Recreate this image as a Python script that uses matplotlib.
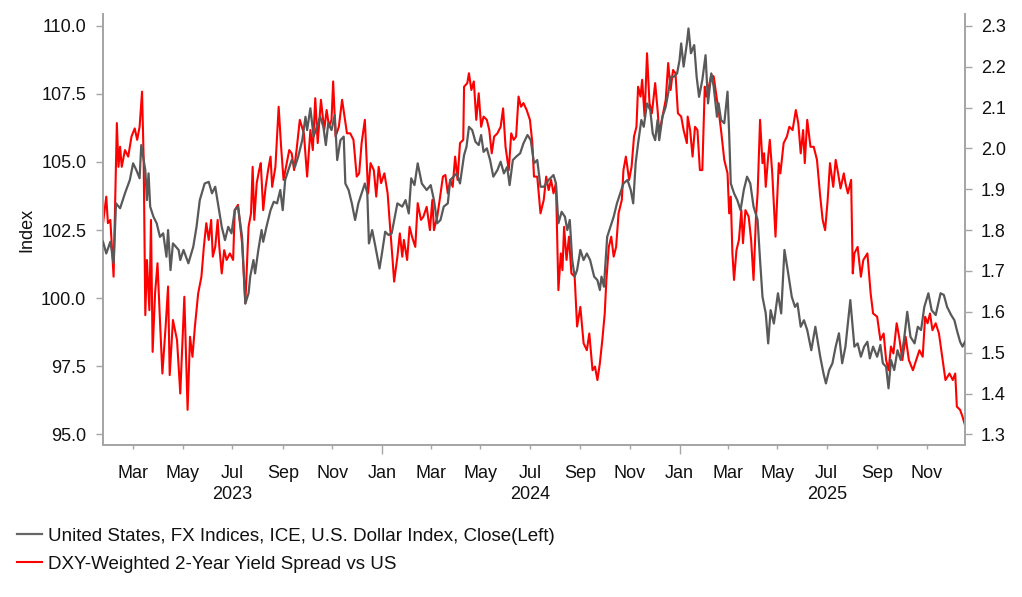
import matplotlib
matplotlib.use("Agg")
import matplotlib.pyplot as plt
import matplotlib.dates as mdates
import matplotlib.transforms as mtransforms
from matplotlib.ticker import FixedLocator, FormatStrFormatter
import pandas as pd

plt.rcParams['font.family'] = ['Liberation Sans', 'DejaVu Sans']

# ---------------- data ----------------
base_date = "2023-01-01"   # day offsets below are days since this date

dxy_day = [22,26,31,35,38,43,49,55,59,63,67,69,74,76,78,80,84,88,92,96,100,102,105,108,115,117,121,127,133,137,
           141,147,152,156,160,164,168,172,176,180,184,188,193,197,201,203,207,209,213,217,219,223,228,232,236,240,
           243,246,250,254,258,262,267,271,273,277,281,285,289,293,296,299,303,307,310,314,318,320,324,328,332,336,
           340,344,347,349,353,357,362,365,369,373,377,384,390,394,398,401,405,409,414,420,425,429,433,437,441,446,
           449,453,457,461,466,469,472,476,480,484,487,490,494,498,502,507,511,515,519,522,526,530,535,539,544,548,
           552,556,560,564,570,576,579,582,586,590,593,596,599,602,605,609,613,617,621,626,630,633,635,638,642,646,
           650,654,658,662,667,671,674,677,680,684,687,691,695,698,701,704,706,710,714,717,720,724,728,731,733,736,
           740,742,745,749,752,755,759,763,766,770,773,777,779,782,786,790,792,794,798,802,806,810,814,818,822,827,
           830,833,837,840,843,847,852,856,860,864,869,873,876,880,884,888,893,898,904,908,911,915,919,923,927,931,
           935,941,946,950,954,958,962,965,969,974,978,981,985,988,991,995,999,1003,1007,1011,1015,1020,1024,1028,
           1032,1037,1041,1046,1052,1056,1060,1065,1069,1072,1076,1079,1082]
dxy_val = [102.07,101.64,102.07,101.28,103.48,103.30,103.85,104.34,104.95,104.70,104.40,105.62,104.70,103.60,104.58,
           103.36,102.99,102.75,102.25,102.38,101.52,102.50,101.03,102.01,101.77,101.40,101.77,101.28,101.89,102.62,
           103.60,104.21,104.27,103.85,104.09,103.36,102.62,102.13,102.62,102.38,103.23,103.36,102.25,99.80,100.18,
           100.79,101.40,100.91,101.77,102.50,102.07,102.62,103.23,103.54,103.48,103.97,103.23,104.34,104.70,105.07,
           104.82,105.19,105.80,106.66,106.17,106.97,105.93,106.29,106.66,106.29,105.62,106.42,106.17,106.72,105.07,
           105.80,105.93,104.21,103.97,103.48,102.87,103.48,103.85,104.21,103.85,102.01,102.50,101.89,101.09,101.64,
           102.44,102.32,102.38,103.48,103.36,103.60,103.11,104.40,104.15,104.95,104.21,103.97,104.15,103.60,102.75,
           102.87,103.36,103.48,104.34,104.46,104.58,104.21,105.25,105.56,106.29,106.17,105.74,105.62,105.99,105.37,
           105.50,105.07,104.46,104.70,105.01,104.58,104.82,104.15,105.07,105.19,105.32,105.68,105.99,105.80,104.95,
           105.07,104.09,104.09,104.34,104.52,104.21,102.75,103.17,102.99,102.50,102.87,101.40,100.79,101.03,101.77,
           101.40,101.64,101.40,100.79,100.66,100.30,100.79,100.42,102.25,102.62,102.99,103.48,103.85,104.21,104.34,
           103.97,103.48,104.95,105.68,106.54,106.29,107.15,106.90,106.05,105.80,106.54,105.80,106.66,107.03,107.52,
           108.13,108.13,108.25,108.74,109.35,108.50,109.35,109.90,108.99,109.29,108.13,107.39,108.01,108.92,107.15,
           108.25,107.76,106.66,107.15,106.54,106.42,107.58,106.05,104.21,103.85,103.60,103.23,103.97,104.46,104.21,
           103.36,102.87,101.40,100.05,99.44,98.34,99.56,99.07,100.18,99.44,101.77,101.03,100.05,99.68,99.81,98.95,
           99.19,98.83,98.09,98.95,97.85,97.24,96.87,97.36,97.61,98.22,98.71,97.61,98.22,99.93,98.22,98.34,97.85,
           98.22,98.40,97.79,98.22,97.85,98.28,97.61,97.48,96.69,97.73,97.36,98.09,97.73,98.46,99.50,98.58,98.34,
           98.95,98.83,99.68,100.18,99.56,99.38,100.18,100.12,99.68,99.38,99.19,98.83,98.40,98.22,98.40]

spread_day = [22,26,28,31,35,37,39,41,43,45,49,53,57,61,64,67,70,72,74,76,79,81,83,86,89,92,95,99,102,104,108,113,
              117,122,126,129,132,135,139,143,146,149,152,155,157,160,163,165,168,171,174,178,182,184,188,193,197,
              201,204,206,208,211,214,216,219,222,225,228,230,234,238,241,244,248,251,254,257,260,264,269,273,277,
              280,283,286,290,294,297,300,303,305,308,312,316,319,322,326,330,334,337,340,344,348,351,355,358,361,
              364,368,372,375,378,380,384,387,390,392,396,399,402,406,409,413,416,420,424,427,429,433,436,440,443,
              446,449,452,455,458,461,465,466,470,472,475,478,481,484,487,490,494,497,500,503,507,511,514,517,521,
              524,527,530,533,536,539,543,547,550,552,556,560,564,567,570,573,576,579,582,585,587,589,592,595,598,
              602,605,609,613,617,620,624,627,630,633,636,639,641,644,647,650,653,656,660,662,665,669,672,675,678,
              680,683,685,688,691,694,697,701,704,706,710,714,717,720,723,726,729,733,736,740,741,744,747,750,753,
              756,759,762,764,767,770,773,777,779,782,786,790,792,794,796,798,801,804,807,809,812,816,819,822,825,
              827,830,833,835,837,840,842,845,849,853,855,859,863,866,870,874,877,880,883,885,888,892,896,900,904,
              907,910,913,916,920,923,926,929,933,935,938,942,944,946,950,954,957,962,966,969,974,978,982,985,988,
              991,994,998,1001,1005,1009,1013,1018,1022,1026,1030,1033,1036,1039,1042,1046,1050,1054,1058,1063,
              1067,1070,1072,1076,1079,1082]
spread_val = [1.817,1.882,1.817,1.825,1.686,1.874,2.062,1.955,2.004,1.955,1.996,1.980,2.029,2.049,2.021,2.053,2.139,
              1.972,1.592,1.727,1.604,1.825,1.502,1.645,1.719,1.580,1.449,1.564,1.662,1.445,1.580,1.531,1.400,1.637,
              1.360,1.539,1.490,1.564,1.645,1.686,1.759,1.817,1.776,1.825,1.735,1.759,1.825,1.759,1.694,1.751,1.727,
              1.743,1.727,1.849,1.862,1.768,1.621,1.808,1.841,1.955,1.825,1.915,1.947,1.964,1.849,1.906,1.947,1.980,
              1.906,1.955,2.102,2.004,1.923,1.964,1.996,1.988,1.947,1.996,2.070,2.037,1.931,2.045,1.996,2.123,2.013,
              2.119,2.045,2.094,2.053,2.070,2.164,2.029,2.053,2.119,2.078,2.037,2.037,2.021,1.931,1.939,2.013,2.070,
              1.890,1.964,1.947,1.882,1.955,1.915,1.939,1.890,1.808,1.730,1.674,1.735,1.792,1.735,1.776,1.727,1.808,
              1.784,1.759,1.866,1.825,1.833,1.857,1.800,1.874,1.800,1.833,1.874,1.931,1.935,1.890,1.923,1.906,1.980,
              1.923,2.013,2.021,2.151,2.160,2.184,2.143,2.164,2.070,2.135,2.053,2.078,2.070,2.045,1.988,2.029,2.037,
              2.053,2.098,2.004,1.947,2.037,2.021,2.029,2.127,2.102,2.111,2.094,2.070,2.013,1.931,1.931,1.841,1.874,
              1.931,1.898,1.923,1.890,1.915,1.653,1.743,1.702,1.808,1.727,1.784,1.694,1.686,1.564,1.612,1.523,1.506,
              1.547,1.457,1.466,1.433,1.474,1.531,1.596,1.678,1.759,1.784,1.735,1.759,1.841,1.874,1.947,1.980,1.923,
              1.955,2.029,2.053,2.151,2.127,2.168,2.078,2.233,2.111,2.086,2.160,2.094,2.037,2.078,2.119,2.209,2.143,
              2.192,2.184,2.086,2.078,2.045,2.013,2.078,2.045,1.980,2.053,2.045,1.947,1.947,2.151,2.127,2.151,2.180,
              2.176,2.119,2.094,2.045,1.972,1.939,1.841,1.882,1.743,1.678,1.751,1.776,1.849,1.768,1.849,1.833,1.776,
              1.678,1.833,1.890,2.070,1.964,1.988,1.906,1.980,2.021,1.939,1.784,1.964,1.939,2.013,2.029,2.053,2.045,
              2.094,2.062,1.988,2.045,1.964,2.070,2.004,2.004,1.972,1.882,1.825,1.800,1.870,1.964,1.906,1.972,1.939,
              1.902,1.939,1.915,1.890,1.923,1.694,1.743,1.759,1.686,1.727,1.743,1.645,1.596,1.588,1.531,1.547,1.482,
              1.457,1.515,1.498,1.572,1.539,1.482,1.539,1.482,1.457,1.482,1.506,1.490,1.588,1.572,1.596,1.555,1.572,
              1.547,1.490,1.433,1.449,1.433,1.449,1.368,1.360,1.343,1.323]

dxy_label = "United States, FX Indices, ICE, U.S. Dollar Index, Close(Left)"
spread_label = "DXY-Weighted 2-Year Yield Spread vs US"
left_ticks = [95.0, 97.5, 100.0, 102.5, 105.0, 107.5, 110.0]
right_ticks = [1.3, 1.4, 1.5, 1.6, 1.7, 1.8, 1.9, 2.0, 2.1, 2.2, 2.3]
year_labels = ["2023", "2024", "2025"]

# ---------------- plot ----------------
base = pd.Timestamp(base_date)
dxy_dates = base + pd.to_timedelta(dxy_day, unit="D")
spread_dates = base + pd.to_timedelta(spread_day, unit="D")

fig = plt.figure(figsize=(10.22, 5.97), dpi=100)
ax = fig.add_axes([0.1008, 0.2546, 0.8434, 0.7219])
ax2 = ax.twinx()

spine_c = "#a6a6a6"
text_c = "#111111"
grey_line = "#595959"
red_line = "#ff0000"
fs = 13

l2, = ax2.plot(spread_dates, spread_val, color=red_line, lw=1.5, zorder=2)
l1, = ax.plot(dxy_dates, dxy_val, color=grey_line, lw=1.6, zorder=3)
ax.set_zorder(ax2.get_zorder() + 1)
ax.patch.set_visible(False)

ax.set_xlim(dxy_dates.min(), dxy_dates.max())
ax.set_ylim(94.61, 110.43)
ax2.set_ylim(1.274, 2.329)

ax.yaxis.set_major_locator(FixedLocator(left_ticks))
ax.yaxis.set_major_formatter(FormatStrFormatter("%.1f"))
ax2.yaxis.set_major_locator(FixedLocator(right_ticks))
ax2.yaxis.set_major_formatter(FormatStrFormatter("%.1f"))

ax.xaxis.set_major_locator(mdates.MonthLocator(bymonth=[1]))
ax.xaxis.set_minor_locator(mdates.MonthLocator(bymonth=[3, 5, 7, 9, 11]))
ax.xaxis.set_major_formatter(mdates.DateFormatter("%b"))
ax.xaxis.set_minor_formatter(mdates.DateFormatter("%b"))

for a in (ax, ax2):
    for s in a.spines.values():
        s.set_color(spine_c)
        s.set_linewidth(1.3)
    a.spines["top"].set_visible(False)

ax.tick_params(axis="x", which="major", length=6.5, width=1, color=spine_c,
               labelsize=fs, labelcolor=text_c, pad=8)
ax.tick_params(axis="x", which="minor", length=3, width=1, color=spine_c,
               labelsize=fs, labelcolor=text_c, pad=11.5)
ax.tick_params(axis="y", length=5, width=1, color=spine_c, labelsize=fs,
               labelcolor=text_c, pad=7)
ax2.tick_params(axis="y", length=5, width=1, color=spine_c, labelsize=fs,
                labelcolor=text_c, pad=6.5)

ax.set_ylabel("Index", fontsize=fs, color=text_c, labelpad=4)

trans = mtransforms.blended_transform_factory(ax.transData, ax.transAxes)
for yl in year_labels:
    ax.text(pd.Timestamp(f"{yl}-07-01"), -0.1137, yl, transform=trans, ha="center",
            va="center", fontsize=fs, color=text_c)

leg = fig.legend([l1, l2], [dxy_label, spread_label], loc="upper left",
                 bbox_to_anchor=(0.0166, 0.1164), frameon=False, fontsize=13.5,
                 handlelength=1.33, handletextpad=0.31, labelspacing=0.58,
                 borderpad=0, borderaxespad=0)
leg.get_lines()[0].set_color("#666666")
for t in leg.get_texts():
    t.set_color(text_c)

fig.savefig("out.png", dpi=100)
